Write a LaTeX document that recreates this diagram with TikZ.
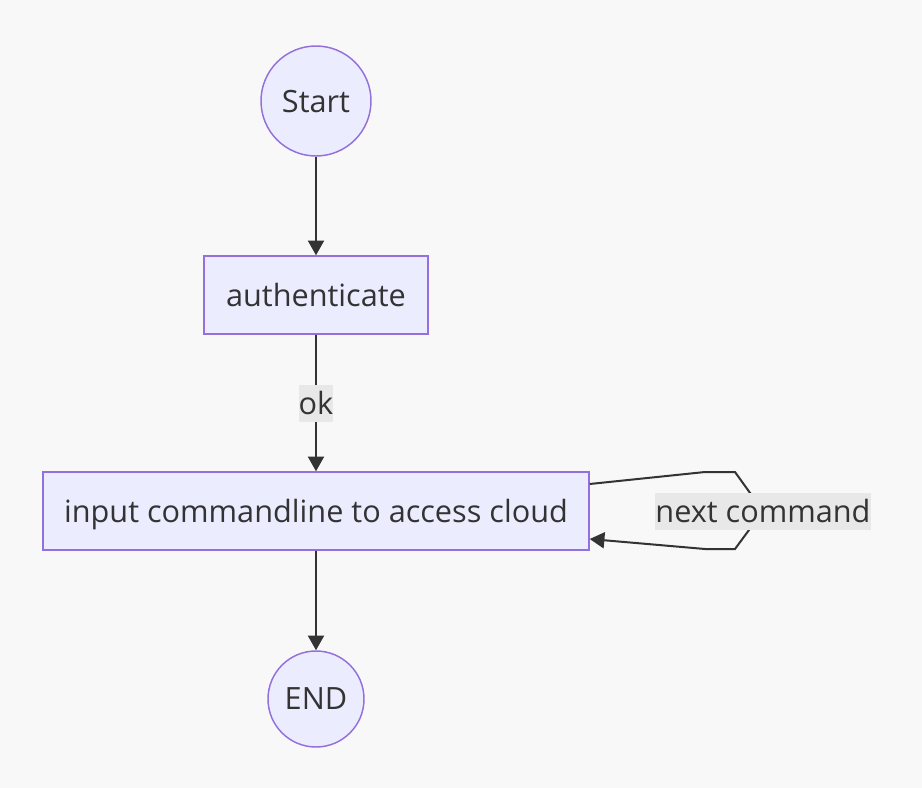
\documentclass[tikz,border=0pt]{standalone}
\usepackage{fontspec}
\setmainfont{Open Sans}
\usetikzlibrary{arrows.meta}
\definecolor{bgc}{HTML}{F8F8F8}
\definecolor{nodefill}{HTML}{ECECFF}
\definecolor{nodeline}{HTML}{9370DB}
\definecolor{txt}{HTML}{333333}
\definecolor{lblbg}{HTML}{E8E8E8}
\tikzset{
  base/.style={draw=nodeline, fill=nodefill, line width=1.1pt, text=txt, font=\fontsize{23}{27}\selectfont, inner sep=0pt, text depth=0pt},
  circ/.style={base, circle},
  box/.style={base, rectangle, minimum height=58.5pt},
  conn/.style={draw=txt, line width=1.5pt, -{Triangle[length=11pt,width=12pt]}},
  lbl/.style={fill=lblbg, text=txt, font=\fontsize{23}{27}\selectfont, inner sep=0pt, minimum height=27.75pt}
}
\begin{document}
\begin{tikzpicture}[x=0.75pt,y=-0.75pt]
\useasboundingbox[fill=bgc] (0,0) rectangle (922,788);
\node[circ, minimum size=82.5pt] (start) at (316,101) {Start};
\node[box, minimum width=168pt] (auth) at (316,295) {authenticate};
\node[box, minimum width=409.5pt] (input) at (316,511) {input commandline to access cloud};
\node[circ, minimum size=72pt] (end) at (316,699) {END};
\draw[conn] (start.south) -- (auth.north);
\draw[conn] (auth.south) -- node[lbl, minimum width=24pt] (ok) {ok} (input.north);
\draw[conn] (input.south) -- (end.north);
\coordinate (l1) at (705,472);
\coordinate (l2) at (735,472);
\coordinate (l3) at (763,511);
\coordinate (l4) at (735,549);
\coordinate (l5) at (705,549);
\draw[conn] ([yshift=20.25pt]input.east) -- (l1) -- (l2) -- (l3) -- (l4) -- (l5) -- ([yshift=-21pt]input.east);
\node[lbl, minimum width=158pt] (nc) at (l3) {next command};
\end{tikzpicture}
\end{document}
